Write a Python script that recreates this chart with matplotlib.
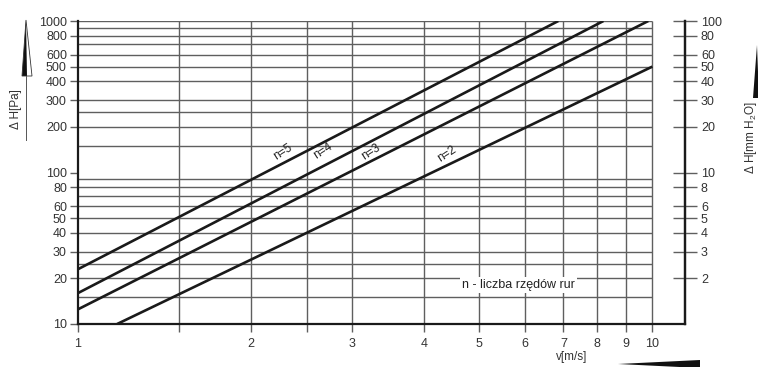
import matplotlib
matplotlib.use("Agg")
import matplotlib.pyplot as plt
from matplotlib.patches import Polygon
from matplotlib.lines import Line2D
from matplotlib.ticker import FixedLocator, FixedFormatter, NullLocator

plt.rcParams['font.family'] = ['Liberation Sans', 'DejaVu Sans']
plt.rcParams['mathtext.fontset'] = 'custom'
plt.rcParams['mathtext.rm'] = 'Liberation Sans'

# ---- data ----
x_grid = [1.5, 2, 2.5, 3, 4, 5, 6, 7, 8, 9, 10]
x_ticks = [1, 1.5, 2, 2.5, 3, 4, 5, 6, 7, 8, 9, 10]
x_labels = ['1', '', '2', '', '3', '4', '5', '6', '7', '8', '9', '10']
y_grid = [15, 20, 25, 30, 40, 50, 60, 70, 80, 90, 150, 200, 250, 300, 400,
          500, 600, 700, 800, 900, 1000]
y_ticks = [10, 20, 30, 40, 50, 60, 80, 100, 200, 300, 400, 500, 600, 800, 1000]
y_labels = [str(v) for v in y_ticks]
r_ticks = [2, 3, 4, 5, 6, 8, 10, 20, 30, 40, 50, 60, 80, 100]
r_labels = [str(v) for v in r_ticks]

series_names = ['n=5', 'n=4', 'n=3', 'n=2']
series_v = [[1, 6.86], [1, 8.22], [1, 9.84], [1.17, 10]]
series_dp = [[23, 1000], [16, 1000], [12.5, 1000], [10, 500]]
label_v = [2.27, 2.67, 3.23, 4.39]
label_dp = [136, 139, 136, 132]

W, H = 758, 367
fig = plt.figure(figsize=(W / 100, H / 100), dpi=100)
left, right, top, bottom = 78, 685, 21, 324
ax = fig.add_axes([left / W, 1 - bottom / H, (right - left) / W, (bottom - top) / H])
ax.set_xscale('log')
ax.set_yscale('log')
ax.set_xlim(1, 11.4)
ax.set_ylim(10, 1000)

gcol = '#5f5f5f'
ax.hlines(y_grid, 1, 10, colors=gcol, lw=1.0, zorder=1)
ax.vlines(x_grid, 10, 1000, colors=gcol, lw=1.0, zorder=1)

for v, dp in zip(series_v, series_dp):
    ax.plot(v, dp, color='#1a1a1a', lw=1.9, zorder=3, solid_capstyle='butt')

for name, lv, ld in zip(series_names, label_v, label_dp):
    ax.text(lv, ld, name, rotation=33, fontsize=8.5, ha='center', va='center',
            color='#222222', zorder=4)

ax.text(5.84, 18.0, 'n - liczba rzędów rur', fontsize=9, ha='center', va='center',
        color='#222222', zorder=4,
        bbox=dict(facecolor='white', edgecolor='none', pad=1.5))

# spines
for s in ['left', 'bottom', 'right']:
    ax.spines[s].set_linewidth(1.6)
    ax.spines[s].set_color('#1a1a1a')
ax.spines['top'].set_visible(False)

ax.xaxis.set_major_locator(FixedLocator(x_ticks))
ax.xaxis.set_major_formatter(FixedFormatter(x_labels))
ax.xaxis.set_minor_locator(NullLocator())
ax.tick_params(axis='x', which='major', length=6, width=1.0, color=gcol,
               labelsize=9, pad=4, labelcolor='#333333')

ax.yaxis.set_major_locator(FixedLocator(y_ticks))
ax.yaxis.set_major_formatter(FixedFormatter(y_labels))
ax.yaxis.set_minor_locator(NullLocator())
ax.tick_params(axis='y', which='major', length=6, width=1.0, color=gcol,
               labelsize=9, pad=2, labelcolor='#333333')

ax2 = ax.twinx()
ax2.set_yscale('log')
ax2.set_ylim(1, 100)
ax2.yaxis.set_major_locator(FixedLocator(r_ticks))
ax2.yaxis.set_major_formatter(FixedFormatter(r_labels))
ax2.yaxis.set_minor_locator(NullLocator())
ax2.tick_params(axis='y', which='major', direction='inout', length=17, width=1.0,
                color=gcol, labelsize=9, pad=3, labelcolor='#333333')
for s in ['left', 'bottom', 'top']:
    ax2.spines[s].set_visible(False)
ax2.spines['right'].set_linewidth(1.6)
ax2.spines['right'].set_color('#1a1a1a')


def px(x, y):
    return (x / W, 1 - y / H)


fig.text(*px(572, 357), 'v[m/s]', fontsize=8.5, ha='center', va='center', color='#333333')
fig.text(*px(16, 109), 'Δ H[Pa]', fontsize=8.5, rotation=90, ha='center', va='center',
         color='#333333')
fig.text(*px(751, 138), 'Δ H[mm H$_2$O]', fontsize=8.5, rotation=90, ha='center',
         va='center', color='#333333')

# decorative wedges
fig.add_artist(Polygon([px(26, 20), px(22, 76), px(27, 76)], closed=True,
                       transform=fig.transFigure, facecolor='#111111', edgecolor='none'))
fig.add_artist(Polygon([px(26, 20), px(22, 76), px(32, 76)], closed=True,
                       transform=fig.transFigure, facecolor='none', edgecolor='#333333', lw=0.6))
fig.add_artist(Line2D([26 / W, 26 / W], [1 - 76 / H, 1 - 140 / H],
                      transform=fig.transFigure, color='#555555', lw=0.7))
fig.add_artist(Polygon([px(618, 364), px(700, 360), px(700, 368)], closed=True,
                       transform=fig.transFigure, facecolor='#111111', edgecolor='none'))
fig.add_artist(Polygon([px(757, 45), px(753, 98), px(759, 98)], closed=True,
                       transform=fig.transFigure, facecolor='#111111', edgecolor='none'))

fig.savefig('out.png', dpi=100)
